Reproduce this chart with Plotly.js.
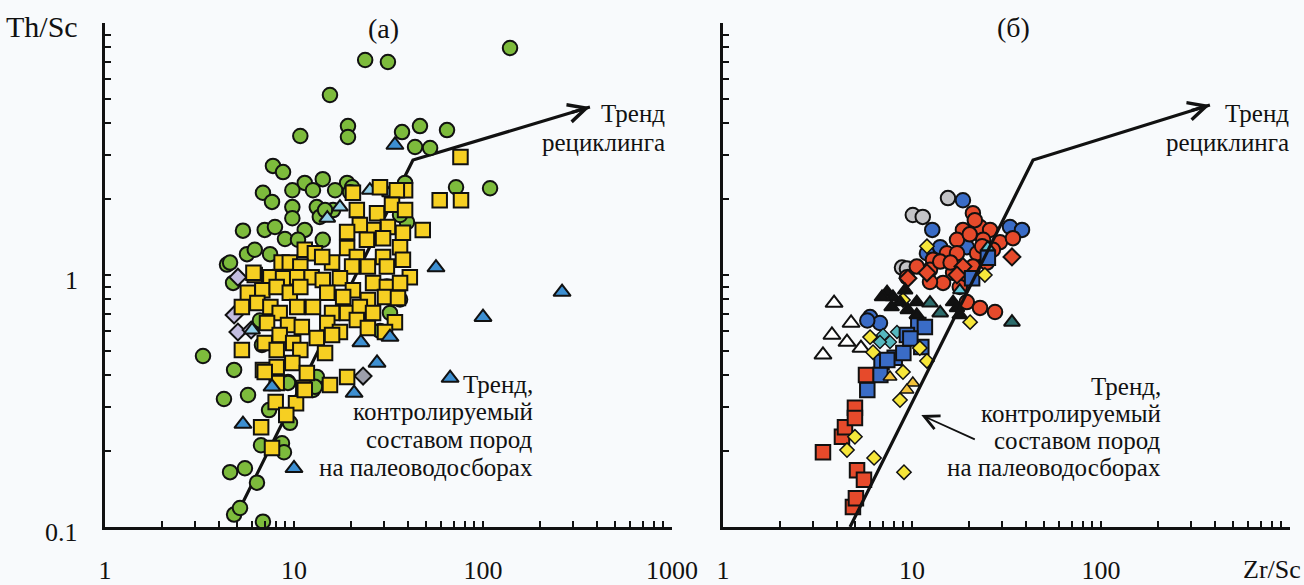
<!DOCTYPE html>
<html><head><meta charset="utf-8">
<script src="https://cdn.plot.ly/plotly-3.0.1.min.js"></script>
<style>html,body{margin:0;padding:0;background:#f8fafc;}#chart{width:1304px;height:585px;}</style>
</head><body><div id="chart"></div>
<script>
// ---------- DATA (x = Zr/Sc, y = Th/Sc) ----------
// Panel (a)
const aGreenCircles = [[139,7.96],[23.8,7.13],[31.4,7.0],[15.5,5.18],[19.3,3.9],[19.3,3.53],[10.8,3.56],[37.3,3.69],[46.4,3.9],[43.7,3.22],[64.5,3.76],[52.5,3.19],[72,2.23],[109,2.21],[7.74,2.71],[8.75,2.56],[11.4,2.32],[14.2,2.40],[19.1,2.32],[6.85,2.12],[7.65,1.95],[9.8,2.17],[12.6,2.17],[16.5,2.17],[20.3,2.23],[9.8,1.86],[13.2,1.86],[16.1,1.81],[19.8,2.13],[9.8,1.68],[11.4,1.51],[13.7,1.70],[14.6,1.81],[5.37,1.50],[7.0,1.51],[7.93,1.55],[8.96,1.39],[10.5,1.38],[14.2,1.38],[4.42,1.10],[5.64,1.21],[7.47,1.21],[4.76,0.93],[39.6,1.62],[38.7,2.32],[32.2,0.707],[6.77,0.528],[9.3,0.376],[12.6,0.35],[3.3,0.477],[4.82,0.42],[4.26,0.322],[5.71,0.334],[4.59,0.165],[5.5,0.171],[6.37,0.15],[4.82,0.112],[5.18,0.119],[6.85,0.105],[6.69,0.211],[8.64,0.215],[8.85,0.198],[9.52,0.259],[7.38,0.291],[9.29,0.373],[13.2,0.394],[12.9,0.36],[4.59,1.12],[36.4,1.73],[6.2,1.26],[36.4,0.8],[6.6,0.66],[28.5,0.6],[31,0.9]];
const aYellowSquares = [[20.5,2.12],[28.5,2.23],[38.7,2.17],[35,2.17],[21.5,1.81],[27.5,1.76],[33.0,1.90],[38.7,1.81],[59,1.98],[76.5,1.98],[76,2.94],[48,1.51],[37.7,1.47],[31.4,1.55],[26.2,1.51],[22.3,1.58],[19.1,1.48],[24.3,1.38],[29.6,1.40],[36.4,1.29],[11.4,1.26],[12.9,1.22],[19.1,1.28],[21.5,1.18],[29.6,1.18],[37.7,1.15],[8.6,1.12],[9.5,1.12],[10.8,1.08],[15.9,1.12],[20.3,1.08],[24.6,1.08],[31.0,1.08],[41,0.98],[6.2,1.0],[7.5,0.98],[8.75,0.97],[10.4,0.98],[12.4,0.98],[14.2,0.955],[17.5,0.97],[20.5,0.87],[26.2,0.93],[31.0,0.896],[36.4,0.93],[5.7,0.85],[6.8,0.87],[8.1,0.896],[9.5,0.85],[10.8,0.896],[15.0,0.85],[18.2,0.818],[24.6,0.796],[30.3,0.818],[35.5,0.81],[5.3,0.746],[6.4,0.774],[7.5,0.746],[8.4,0.707],[10.4,0.746],[12.6,0.746],[15.9,0.707],[19.1,0.707],[22.3,0.746],[26.2,0.707],[34.2,0.65],[7.2,0.645],[9.3,0.633],[11.0,0.622],[15.0,0.645],[17.5,0.594],[21.5,0.663],[24.6,0.616],[30.3,0.594],[8.4,0.578],[9.9,0.537],[13.2,0.562],[15.9,0.578],[5.3,0.504],[7.0,0.537],[8.1,0.504],[10.8,0.504],[14.6,0.49],[6.85,0.42],[8.1,0.431],[9.8,0.448],[11.7,0.408],[19.1,0.394],[15.5,0.366],[11.2,0.356],[8.1,0.373],[7.0,0.412],[8.0,0.313],[10.25,0.31],[11.4,0.35],[9.1,0.278],[6.7,0.249],[7.65,0.206],[14.1,1.18],[6.1,1.02]];
const aBlueTriangles = [[34.2,3.28],[56.4,1.07],[67,0.39],[100,0.68],[262,0.856],[27.5,0.448],[20.8,0.34],[22.6,0.54],[32.2,0.567],[7.65,0.36],[5.37,0.256],[10.0,0.171]];
const aLightTriangles = [[15.0,1.68],[17.5,1.86],[32.2,2.12],[25.2,2.17],[7.7,0.98],[6.0,0.605]];
const aLilacDiamonds = [[4.82,0.694],[5.05,0.594],[5.93,0.605],[5.05,0.98]];
const aGreyDiamonds = [[23.2,0.397]];
// Panel (б)
const bGreyCircles = [[15.5,2.02],[10.1,1.73],[11.4,1.70],[8.85,1.07],[9.4,1.06]];
const bBlueCircles = [[18.6,1.98],[12.8,1.51],[14.1,1.29],[12.0,1.22],[19.5,1.29],[33.0,1.55],[38.2,1.51],[6.0,0.681],[6.77,0.645],[5.8,0.66]];
const bRedCircles = [[21.0,1.76],[22.9,1.55],[25.9,1.51],[18.6,1.51],[17.3,1.38],[23.8,1.38],[29.2,1.35],[34.2,1.40],[12.9,1.15],[15.3,1.22],[17.3,1.22],[22.1,1.22],[24.9,1.12],[12.45,1.05],[16.5,1.02],[19.5,0.97],[14.6,0.93],[12.45,0.938],[17.9,0.896],[19.5,0.781],[22.9,0.74],[27.5,0.713],[10.6,1.08],[9.41,0.98],[14.1,1.13],[26.8,1.26],[21.0,1.08],[21.5,1.65],[20.2,1.45],[23.5,1.30],[16.0,1.12]];
const bRedDiamonds = [[33.8,1.18],[18.6,1.08],[17.3,1.0],[12.0,1.02],[9.52,0.97]];
const bBlueSquares = [[25.2,1.17],[20.8,0.97],[10.8,0.633],[9.4,0.578],[6.9,0.452],[8.1,0.469],[9.0,0.49],[6.8,0.401],[5.8,0.35],[7.4,0.46],[11.2,0.518],[11.7,0.622],[9.8,0.56]];
const bRedSquares = [[3.38,0.198],[4.26,0.228],[4.42,0.249],[4.99,0.297],[4.99,0.271],[5.12,0.168],[5.57,0.154],[4.87,0.12],[4.26,0.099],[4.64,0.095],[5.71,0.401],[5.05,0.13]];
const bYellowDiamonds = [[12.0,1.30],[24.3,1.0],[8.96,0.796],[6.0,0.567],[6.22,0.494],[11.0,0.513],[12.0,0.456],[8.96,0.412],[20.3,0.65],[4.99,0.228],[4.53,0.202],[6.3,0.188],[9.07,0.165],[8.64,0.319]];
const bYellowTriangles = [[7.65,0.394],[10.1,0.373],[9.4,0.35]];
const bBlackTriangles = [[7.38,0.856],[7.93,0.818],[8.64,0.781],[7.8,0.746],[9.2,0.87],[10.6,0.781],[9.5,0.727],[10.6,0.694],[16.5,0.781],[17.3,0.74],[17.9,0.694],[6.94,0.818]];
const bTealTriangles = [[12.45,0.774],[14.1,0.707],[33.8,0.65]];
const bTealDiamonds = [[7.03,0.578],[7.65,0.542],[8.33,0.594],[6.77,0.542]];
const bCyanTriangles = [[25.2,1.29],[17.9,0.87]];
const bWhiteTriangles = [[3.87,0.774],[4.76,0.645],[3.77,0.578],[4.53,0.542],[3.38,0.482],[5.37,0.513]];
// Trend lines (start, bend, arrow tip)
const trendAX = [5.1, 42.6, 368], trendAY = [0.116, 2.86, 4.64];
const trendBX = [4.7, 43.7, 377], trendBY = [0.1, 2.86, 4.73];
const pointerB = [11.2, 0.278];   // tip of the small arrow in panel (б)
// Tick labels
const xMajor = [1, 10, 100, 1000];
const xLabelsA = ['1', '10', '100', '1000'];
const xLabelsB = ['1', '10', '100', ''];
const yMajor = [0.1, 1];
const yLabels = ['0.1', '1'];
const textRecycle = ['Тренд', 'рециклинга'];
const textSource = ['Тренд,', 'контролируемый', 'составом пород', 'на палеоводосборах'];

// ---------- LAYOUT HELPERS ----------
const W = 1304, H = 585, TOP = 23, BOT = 527;
const FONT = 'Liberation Serif, Times New Roman, DejaVu Serif, serif';
const px = x => x / W;
const py = y => (BOT - y) / (BOT - TOP);

function sc(pairs, xa, ya, symbol, color, size, lw) {
  return {
    type: 'scatter', mode: 'markers', xaxis: xa, yaxis: ya, cliponaxis: false,
    x: pairs.map(p => p[0]), y: pairs.map(p => p[1]),
    marker: {symbol: symbol, color: color, size: size, line: {color: '#111', width: lw == null ? 2 : lw}},
    hoverinfo: 'x+y', showlegend: false
  };
}
function line(xs, ys, xa, ya) {
  return {type: 'scatter', mode: 'lines', x: xs, y: ys, xaxis: xa, yaxis: ya,
    line: {color: '#111', width: 3.2}, hoverinfo: 'skip', showlegend: false, cliponaxis: false};
}

const traces = [
  line(trendAX, trendAY, 'x', 'y'),
  sc(aGreenCircles, 'x', 'y', 'circle', '#7dbb3c', 14.5),
  sc(aLilacDiamonds, 'x', 'y', 'diamond', '#c3bde0', 13),
  sc(aGreyDiamonds, 'x', 'y', 'diamond', '#9c9eab', 13),
  sc(aLightTriangles, 'x', 'y', 'triangle-up', '#92cfe9', 14),
  sc(aYellowSquares, 'x', 'y', 'square', '#f6cf22', 14.5),
  sc(aBlueTriangles, 'x', 'y', 'triangle-up', '#3d8fd1', 15),

  sc(bWhiteTriangles, 'x2', 'y2', 'triangle-up', '#ffffff', 15),
  sc(bGreyCircles, 'x2', 'y2', 'circle', '#c3c3c6', 14.5),
  sc(bBlueCircles, 'x2', 'y2', 'circle', '#3a6cc6', 14.5),
  sc(bRedCircles, 'x2', 'y2', 'circle', '#e64a2b', 14.5),
  sc(bRedDiamonds, 'x2', 'y2', 'diamond', '#e64a2b', 13),
  sc(bTealDiamonds, 'x2', 'y2', 'diamond', '#55b8bf', 10, 1.3),
  sc(bBlueSquares, 'x2', 'y2', 'square', '#3a6cc6', 14.5),
  sc(bRedSquares, 'x2', 'y2', 'square', '#e64a2b', 14.5),
  sc(bYellowDiamonds, 'x2', 'y2', 'diamond', '#f6e63a', 11, 1.5),
  sc(bYellowTriangles, 'x2', 'y2', 'triangle-up', '#f3c33c', 12, 1.5),
  sc(bBlackTriangles, 'x2', 'y2', 'triangle-up', '#111111', 13),
  sc(bTealTriangles, 'x2', 'y2', 'triangle-up', '#2c6c6c', 14),
  sc(bCyanTriangles, 'x2', 'y2', 'triangle-up', '#5fc3d4', 12),
  line(trendBX, trendBY, 'x2', 'y2')
];

// ---------- AXES ----------
const xTickVals = [], xTickText = [], xTickTextB = [];
[1, 10, 100].forEach(d => { for (let k = 1; k <= 9; k++) xTickVals.push(k * d); });
xTickVals.push(1000);
xTickVals.forEach(v => {
  const i = xMajor.indexOf(v);
  xTickText.push(i >= 0 ? xLabelsA[i] : '');
  xTickTextB.push(i >= 0 ? xLabelsB[i] : '');
});
const yTickVals = [];
[0.1, 1].forEach(d => { for (let k = 1; k <= 9; k++) yTickVals.push(+(k * d).toFixed(2)); });
yTickVals.push(10);

const axBase = {
  type: 'log', showline: true, linecolor: '#111', linewidth: 2.6, mirror: false,
  ticks: 'inside', ticklen: 6, tickwidth: 2, tickcolor: '#111',
  showgrid: false, zeroline: false, tickmode: 'array',
  tickfont: {family: FONT, size: 26, color: '#111'}, fixedrange: true
};
const Y_RANGE = [-1, 1];
const layout = {
  width: W, height: H,
  margin: {l: 0, r: 0, t: TOP, b: H - BOT, pad: 0},
  paper_bgcolor: '#f8fafc', plot_bgcolor: '#f8fafc',
  font: {family: FONT, color: '#111'},
  showlegend: false,
  xaxis: Object.assign({}, axBase, {domain: [px(105), px(672)], range: [0, 3], anchor: 'y',
    tickvals: xTickVals, ticktext: xTickText, ticklabelstandoff: 18}),
  xaxis2: Object.assign({}, axBase, {domain: [px(723), px(1290)], range: [0, 3], anchor: 'y2',
    tickvals: xTickVals, ticktext: xTickTextB, ticklabelstandoff: 18}),
  yaxis: Object.assign({}, axBase, {domain: [0, 1], range: Y_RANGE, anchor: 'x',
    tickvals: yTickVals, showticklabels: false}),
  yaxis2: Object.assign({}, axBase, {domain: [0, 1], range: Y_RANGE, anchor: 'x2',
    tickvals: yTickVals, showticklabels: false}),
  annotations: []
};

function txt(s, x, y, anchor, size) {
  layout.annotations.push({text: s, xref: 'paper', yref: 'paper', x: px(x), y: py(y),
    xanchor: anchor, yanchor: 'middle', showarrow: false,
    font: {family: FONT, size: size, color: '#111'}});
}
// y tick labels beside the left axis, at the paper height of their values
yMajor.forEach((v, i) => layout.annotations.push({
  text: yLabels[i], xref: 'paper', yref: 'paper', x: px(80),
  y: (Math.log10(v) - Y_RANGE[0]) / (Y_RANGE[1] - Y_RANGE[0]), yshift: -5,
  xanchor: 'right', yanchor: 'middle', showarrow: false,
  font: {family: FONT, size: 26, color: '#111'}}));
// titles and axis names
txt('Th/Sc', 4, 27, 'left', 30);
txt('(a)', 383, 29, 'center', 28);
txt('(б)', 1014, 28, 'center', 28);
txt('Zr/Sc', 1272, 569, 'center', 26);
// trend labels
txt(textRecycle[0], 667, 113, 'right', 25);
txt(textRecycle[1], 667, 142, 'right', 25);
txt(textRecycle[0], 1291, 113, 'right', 25);
txt(textRecycle[1], 1291, 142, 'right', 25);
[384, 411, 439, 467].forEach((y, i) => txt(textSource[i], 535, y, 'right', 25));
[386, 413, 440, 467].forEach((y, i) => txt(textSource[i], 1163, y, 'right', 25));

// arrowheads at the tips of the recycling trends
function arrowAt(xa, ya, xv, yv, ax, ay, head, size, width) {
  layout.annotations.push({xref: xa, yref: ya, x: Math.log10(xv), y: Math.log10(yv),
    ax: ax, ay: ay, axref: 'pixel', ayref: 'pixel', showarrow: true, text: '',
    arrowhead: head, arrowsize: size, arrowwidth: width, arrowcolor: '#111'});
}
arrowAt('x', 'y', trendAX[2], trendAY[2], -20, 6, 5, 1.1, 3.2);
arrowAt('x2', 'y2', trendBX[2], trendBY[2], -20, 6, 5, 1.1, 3.2);
arrowAt('x2', 'y2', pointerB[0], pointerB[1], 55, 25, 5, 1.6, 1.8);

Plotly.newPlot('chart', traces, layout, {displayModeBar: false, staticPlot: true});
</script></body></html>
